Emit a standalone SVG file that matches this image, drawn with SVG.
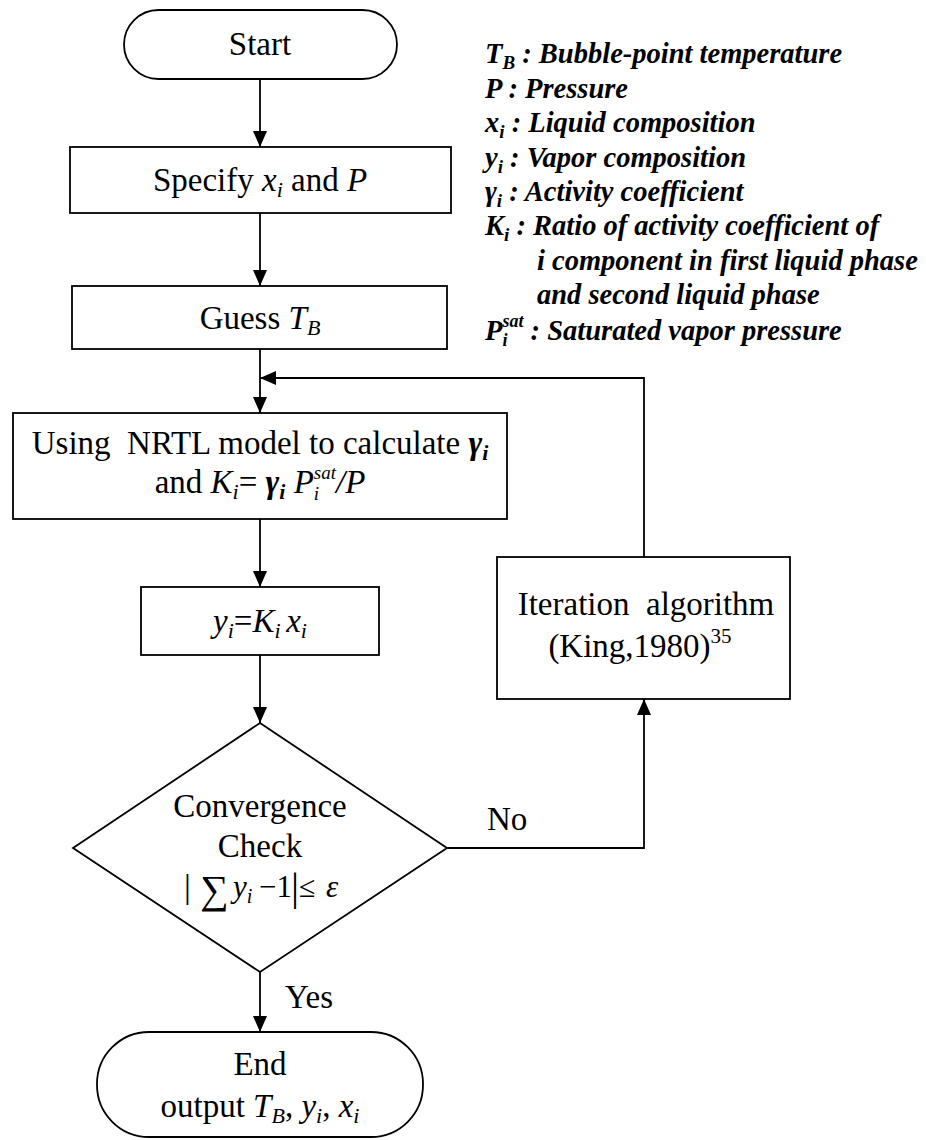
<svg xmlns="http://www.w3.org/2000/svg" width="926" height="1140" viewBox="0 0 926 1140">
  <style>
    .box { fill: #ffffff; stroke: #000000; stroke-width: 1.8; }
    .wire { fill: none; stroke: #000000; stroke-width: 1.8; }
    .t { font-family: "Liberation Serif", "Times New Roman", serif; font-size: 33px; fill: #000000; }
    .it { font-style: italic; }
    .bi { font-style: italic; font-weight: bold; }
    .leg { font-family: "Liberation Serif", "Times New Roman", serif; font-size: 28.5px; font-style: italic; font-weight: bold; fill: #000000; }
    .math { font-family: "Liberation Serif", "DejaVu Serif", serif; fill: #000000; }
  </style>
  <defs>
    <marker id="arrow" markerUnits="userSpaceOnUse" markerWidth="16" markerHeight="14" refX="16" refY="7" orient="auto">
      <path d="M0,0 L16,7 L0,14 Z" fill="#000000"/>
    </marker>
  </defs>

  <rect width="926" height="1140" fill="#ffffff"/>

  <!-- symbol legend -->
  <g id="legend" class="leg">
    <text x="485" y="63">T<tspan font-size="19" dy="6">B</tspan><tspan dy="-6"> : Bubble-point temperature</tspan></text>
    <text x="485" y="98">P : Pressure</text>
    <text x="485" y="132">x<tspan font-size="19" dy="6">i</tspan><tspan dy="-6"> : Liquid composition</tspan></text>
    <text x="485" y="167">y<tspan font-size="19" dy="6">i</tspan><tspan dy="-6"> : Vapor composition</tspan></text>
    <text x="485" y="201">γ<tspan font-size="19" dy="6">i</tspan><tspan dy="-6"> : Activity coefficient</tspan></text>
    <text x="485" y="235">K<tspan font-size="19" dy="6">i</tspan><tspan dy="-6"> : Ratio of activity coefficient of</tspan></text>
    <text x="537" y="270">i component in first liquid phase</text>
    <text x="537" y="304">and second liquid phase</text>
    <text x="485" y="340">P<tspan font-size="18" dy="6">i</tspan><tspan font-size="18" dx="-5" dy="-19">sat</tspan><tspan dy="13"> : Saturated vapor pressure</tspan></text>
  </g>

  <!-- connectors -->
  <g id="connectors">
    <line class="wire" x1="260" y1="79" x2="260" y2="147" marker-end="url(#arrow)"/>
    <line class="wire" x1="260" y1="213" x2="260" y2="286" marker-end="url(#arrow)"/>
    <line class="wire" x1="260" y1="349" x2="260" y2="413" marker-end="url(#arrow)"/>
    <line class="wire" x1="260" y1="519" x2="260" y2="587" marker-end="url(#arrow)"/>
    <line class="wire" x1="260" y1="655" x2="260" y2="723" marker-end="url(#arrow)"/>
    <line class="wire" x1="260" y1="972" x2="260" y2="1032" marker-end="url(#arrow)"/>
    <path class="wire" d="M447,848 H644 V699" marker-end="url(#arrow)"/>
    <path class="wire" d="M644,557 V378 H260" marker-end="url(#arrow)"/>
    <text class="t" x="487" y="830">No</text>
    <text class="t" x="285" y="1008">Yes</text>
  </g>

  <!-- terminal: start -->
  <g id="start">
    <rect class="box" x="124" y="10" width="273" height="69" rx="34.5" ry="34.5"/>
    <text class="t" x="260" y="55" text-anchor="middle">Start</text>
  </g>

  <!-- input specification -->
  <g id="specify">
    <rect class="box" x="70" y="147" width="381" height="66"/>
    <text class="t" x="260" y="191" text-anchor="middle">Specify <tspan class="it">x</tspan><tspan class="it" font-size="22" dy="6">i</tspan><tspan dy="-6"> and </tspan><tspan class="it">P</tspan></text>
  </g>

  <!-- initial temperature guess -->
  <g id="guess">
    <rect class="box" x="72" y="286" width="375" height="63"/>
    <text class="t" x="260" y="329" text-anchor="middle">Guess <tspan class="it">T</tspan><tspan class="it" font-size="22" dy="6">B</tspan></text>
  </g>

  <!-- activity coefficient / K-value step -->
  <g id="nrtl">
    <rect class="box" x="13" y="413" width="494" height="106"/>
    <text class="t" x="260" y="454" text-anchor="middle">Using&#160; NRTL model to calculate <tspan class="bi">γ</tspan><tspan class="bi" font-size="22" dy="6">i</tspan></text>
    <text class="t" x="260" y="493" text-anchor="middle">and <tspan class="it">K</tspan><tspan class="it" font-size="22" dy="6">i</tspan><tspan dy="-6">= </tspan><tspan class="bi">γ</tspan><tspan class="bi" font-size="22" dy="6">i</tspan><tspan class="it" dy="-6"> P</tspan><tspan class="it" font-size="19" dy="7">i</tspan><tspan class="it" font-size="19" dx="-5.3" dy="-21">sat</tspan><tspan class="it" dy="14">/P</tspan></text>
  </g>

  <!-- vapour composition -->
  <g id="vapor">
    <rect class="box" x="141" y="587" width="238" height="68"/>
    <text class="t" x="260" y="632" text-anchor="middle"><tspan class="it">y</tspan><tspan class="it" font-size="22" dy="6">i</tspan><tspan dy="-6">=</tspan><tspan class="it">K</tspan><tspan class="it" font-size="22" dy="6">i </tspan><tspan class="it" dy="-6">x</tspan><tspan class="it" font-size="22" dy="6">i</tspan></text>
  </g>

  <!-- convergence decision -->
  <g id="check">
    <polygon class="box" points="260,723 447,848 260,972 73,848"/>
    <text class="t" x="260" y="817" text-anchor="middle">Convergence</text>
    <text class="t" x="260" y="857" text-anchor="middle">Check</text>
    <text class="math" x="184" y="898" font-size="34">|</text>
    <text class="math" x="200" y="903" font-size="40">∑</text>
    <text class="math" x="233" y="897" font-size="31" font-style="italic">y<tspan font-size="20" dy="6">i</tspan></text>
    <text class="math" x="259" y="897" font-size="31">−1</text>
    <text class="math" x="291" y="900" font-size="40">|</text>
    <text class="math" x="299" y="897" font-size="30">≤</text>
    <text class="math" x="326" y="897" font-size="31" font-style="italic">ε</text>
  </g>

  <!-- iteration update -->
  <g id="iteration">
    <rect class="box" x="497" y="557" width="293" height="142"/>
    <text class="t" x="646" y="615" text-anchor="middle">Iteration&#160; algorithm</text>
    <text class="t" x="640" y="657" text-anchor="middle">(King,1980)<tspan font-size="21" dy="-14">35</tspan></text>
  </g>

  <!-- terminal: end -->
  <g id="end">
    <rect class="box" x="97" y="1032" width="326" height="105" rx="52" ry="52"/>
    <text class="t" x="260" y="1075" text-anchor="middle">End</text>
    <text class="t" x="260" y="1117" text-anchor="middle">output <tspan class="it">T</tspan><tspan class="it" font-size="22" dy="6">B</tspan><tspan dy="-6">, </tspan><tspan class="it">y</tspan><tspan class="it" font-size="22" dy="6">i</tspan><tspan dy="-6">, </tspan><tspan class="it">x</tspan><tspan class="it" font-size="22" dy="6">i</tspan></text>
  </g>
</svg>
